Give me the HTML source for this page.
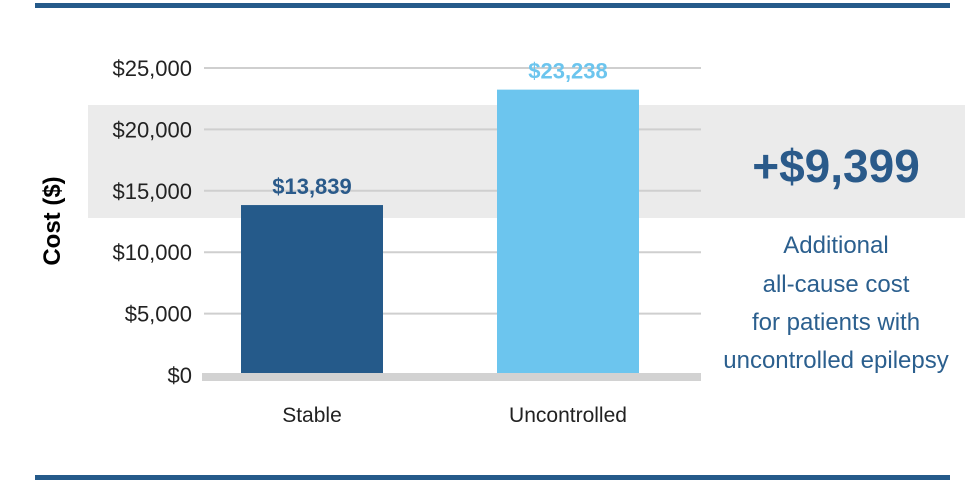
<!DOCTYPE html>
<html><head><meta charset="utf-8"><style>
body{margin:0;background:#fff;}
svg text{font-family:"Liberation Sans Narrow","Liberation Sans",sans-serif;}
</style></head><body>
<svg width="965" height="491" viewBox="0 0 965 491" xmlns="http://www.w3.org/2000/svg">
<rect x="35" y="3" width="915" height="5" fill="#255a8a"/>
<rect x="35" y="475" width="915" height="5" fill="#255a8a"/>
<rect x="88" y="105" width="877" height="113" fill="#ebebeb"/>
<g id="grid"></g>
<g id="bars"></g>
<rect x="202" y="373" width="499" height="8" fill="#d2d2d2"/>
<text x="0" y="0" transform="translate(60,221) rotate(-90)" text-anchor="middle" font-size="24" font-weight="bold" fill="#000" style="font-family:'Liberation Sans',sans-serif">Cost ($)</text>
<text x="836" y="182" text-anchor="middle" font-size="46" font-weight="bold" fill="#2a5a8a" style="font-family:'Liberation Sans',sans-serif">+$9,399</text>
<g fill="#2b5f8e" font-size="24" text-anchor="middle">
<text x="836" y="253">Additional</text>
<text x="836" y="292">all-cause cost</text>
<text x="836" y="330">for patients with</text>
<text x="836" y="368">uncontrolled epilepsy</text>
</g>
</svg>
<script>
const categories=["Stable","Uncontrolled"];
const values=[13839,23238];
const valueLabels=["$13,839","$23,238"];
const ticks=[0,5000,10000,15000,20000,25000];
const tickLabels=["$0","$5,000","$10,000","$15,000","$20,000","$25,000"];
const colors=["#255a8a","#6cc5ee"];
const labelColors=["#2a5a8a","#6cc5ee"];
const NS="http://www.w3.org/2000/svg";
const y=v=>375-v*(307/25000);
const x=i=>241+i*256;
const bw=142;
const grid=document.getElementById('grid');
ticks.forEach((t,i)=>{
  if(t>0){const l=document.createElementNS(NS,'line');
  l.setAttribute('x1',204);l.setAttribute('x2',701);l.setAttribute('y1',y(t));l.setAttribute('y2',y(t));
  l.setAttribute('stroke','#cfcfcf');l.setAttribute('stroke-width','2');
  
  
  grid.appendChild(l);}
  const tx=document.createElementNS(NS,'text');
  tx.setAttribute('x',192);tx.setAttribute('y',y(t)+8);tx.setAttribute('text-anchor','end');
  tx.setAttribute('font-size','22');tx.setAttribute('fill','#222');
  tx.textContent=tickLabels[i];
  
  
  grid.appendChild(tx);
});
const bars=document.getElementById('bars');
categories.forEach((c,i)=>{
  const r=document.createElementNS(NS,'rect');
  r.setAttribute('x',x(i));r.setAttribute('y',y(values[i]));r.setAttribute('width',bw);r.setAttribute('height',375-y(values[i]));
  r.setAttribute('fill',colors[i]);
  
  
  bars.appendChild(r);
  const v=document.createElementNS(NS,'text');
  v.setAttribute('x',x(i)+bw/2);v.setAttribute('y',y(values[i])-11);v.setAttribute('text-anchor','middle');
  v.setAttribute('font-size','22');v.setAttribute('font-weight','bold');v.setAttribute('fill',labelColors[i]);
  v.textContent=valueLabels[i];
  
  
  bars.appendChild(v);
  const cl=document.createElementNS(NS,'text');
  cl.setAttribute('x',x(i)+bw/2);cl.setAttribute('y',422);cl.setAttribute('text-anchor','middle');
  cl.setAttribute('font-size','21');cl.setAttribute('fill','#222');
  cl.textContent=c;
  
  
  bars.appendChild(cl);
});
</script>
</body></html>
